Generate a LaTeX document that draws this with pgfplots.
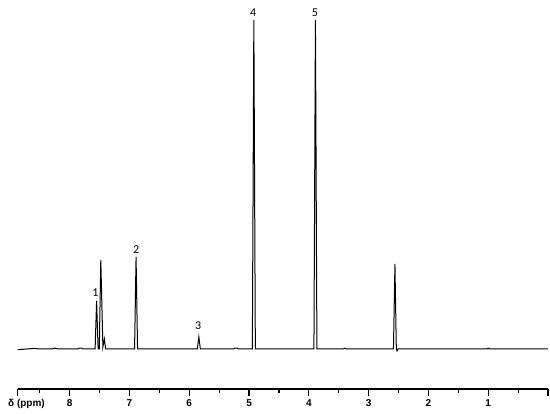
\documentclass[border=0pt]{standalone}
\usepackage{fontspec}
\setmainfont{Liberation Sans}
\newfontfamily\labfont{Carlito}
\usepackage{pgfplots}
\pgfplotsset{compat=1.18}
\begin{document}
\begin{tikzpicture}
\begin{axis}[
    name=ax,
    scale only axis,
    width=530.4pt, height=389pt,
    xmin=0, xmax=8.87, ymin=-40, ymax=349,
    x dir=reverse,
    axis x line*=bottom, axis y line=none,
    axis line style={-, line width=1.2pt},
    tick align=outside,
    xtick={1,2,3,4,5,6,7,8},
    minor xtick={0.5,1.5,2.5,3.5,4.5,5.5,6.5,7.5,8.5},
    extra x ticks={0,8.87},
    extra x tick labels={},
    major tick length=7pt,
    minor tick length=4pt,
    every tick/.style={black, line width=1.2pt},
    tick label style={font=\fontsize{10}{12}\selectfont\bfseries},
    /pgf/number format/assume math mode=true,
    clip=false,
]
\addplot[black, line width=1pt] coordinates {
(0,0) (0.98,0) (1.0,0.8) (1.02,0)
(2.51,0) (2.525,-2) (2.537,0) (2.56,85) (2.585,0)
(3.38,0) (3.40,0.8) (3.42,0)
(3.865,0) (3.89,329) (3.915,0)
(4.895,0) (4.92,329) (4.945,0)
(5.18,0) (5.20,0.8) (5.24,0.8) (5.26,0)
(5.815,0) (5.84,12) (5.865,0)
(6.865,0) (6.89,92) (6.915,0)
(7.40,0) (7.42,10) (7.445,2) (7.48,89) (7.505,0) (7.525,0) (7.55,48) (7.575,0)
(7.78,0) (7.80,0.8) (7.84,0.8) (7.86,0)
(8.20,0) (8.25,0.8) (8.30,0)
(8.50,0) (8.60,0.5) (8.87,-0.8)
};
\node[font=\fontsize{12}{14}\selectfont\labfont] at (axis cs:7.57,56) {1};
\node[font=\fontsize{12}{14}\selectfont\labfont] at (axis cs:6.89,99) {2};
\node[font=\fontsize{12}{14}\selectfont\labfont] at (axis cs:5.85,23) {3};
\node[font=\fontsize{12}{14}\selectfont\labfont] at (axis cs:4.93,336) {4};
\node[font=\fontsize{12}{14}\selectfont\labfont] at (axis cs:3.90,336) {5};
\end{axis}
\node[anchor=base west, font=\fontsize{10}{12}\selectfont\bfseries] at ([xshift=-13pt,yshift=-18pt]ax.south west) {δ (ppm)};
\pgfresetboundingbox
\path ([xshift=-17.7pt,yshift=-25pt]ax.south west) rectangle ([xshift=2pt]ax.north east);
\end{tikzpicture}
\end{document}
